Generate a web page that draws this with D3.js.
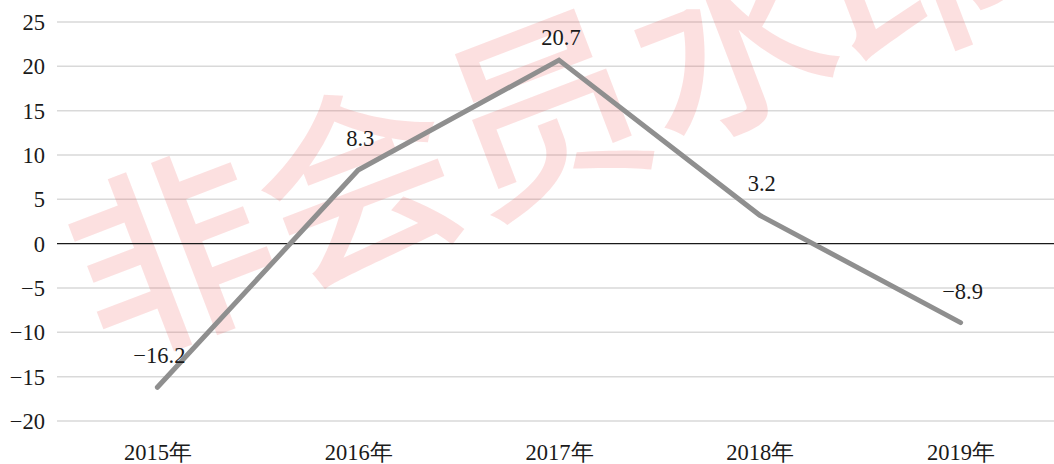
<!DOCTYPE html>
<html>
<head>
<meta charset="utf-8">
<script src="https://cdn.jsdelivr.net/npm/d3@7"></script>
<style>
  html, body { margin: 0; padding: 0; background: #fff; }
  svg { display: block; }
</style>
</head>
<body>
<svg id="chart" width="1054" height="464"></svg>
<script>
// Year-over-year growth rate (%)
const years = ["2015年", "2016年", "2017年", "2018年", "2019年"];
const growth = [-16.2, 8.3, 20.7, 3.2, -8.9];
const yTicks = [-20, -15, -10, -5, 0, 5, 10, 15, 20, 25];
const watermark = "非会员水印";

const W = 1054, H = 464;
const SERIF = "Liberation Serif";
const FS = 22.5;
const textColor = "#1a1a1a";
const fmt = d => d < 0 ? "\u2212" + Math.abs(d) : String(d);

const svg = d3.select("#chart");

const x = d3.scalePoint().domain(years).range([57, 1061]).padding(0.5);
const y = d3.scaleLinear().domain([-20, 25]).range([421, 22]);

// horizontal gridlines
svg.append("g")
  .selectAll("line")
  .data(yTicks.filter(d => d !== 0))
  .join("line")
  .attr("x1", 57).attr("x2", W)
  .attr("y1", d => y(d)).attr("y2", d => y(d))
  .attr("stroke", "#d9d9d9")
  .attr("stroke-width", 1.5);

// y axis labels
svg.append("g")
  .attr("transform", "translate(45,0)")
  .call(d3.axisLeft(y).tickValues(yTicks).tickSize(0).tickPadding(0).tickFormat(fmt))
  .attr("font-family", SERIF)
  .attr("font-size", FS)
  .call(g => g.select(".domain").remove())
  .selectAll("text")
  .attr("dy", "0.33em")
  .attr("fill", textColor);

// x axis labels
svg.append("g")
  .attr("transform", "translate(0,444)")
  .call(d3.axisBottom(x).tickSize(0).tickPadding(0))
  .attr("font-family", SERIF)
  .attr("font-size", FS)
  .call(g => g.select(".domain").remove())
  .selectAll("text")
  .attr("dy", "0.71em")
  .attr("fill", textColor);

// watermark
svg.append("text")
  .attr("transform", "translate(540,100) rotate(-21)")
  .attr("text-anchor", "middle")
  .attr("dominant-baseline", "central")
  .attr("font-size", 200)
  .attr("font-weight", 500)
  .attr("font-family", "Noto Sans CJK SC")
  .attr("fill", "rgba(235,70,70,0.17)")
  .text(watermark);

// zero baseline
svg.append("line")
  .attr("x1", 57).attr("x2", W)
  .attr("y1", y(0)).attr("y2", y(0))
  .attr("stroke", textColor)
  .attr("stroke-width", 1.2);

// series line
const pts = years.map((yr, i) => ({ yr, v: growth[i] }));
svg.append("path")
  .datum(pts)
  .attr("fill", "none")
  .attr("stroke", "#8f8f8f")
  .attr("stroke-width", 5)
  .attr("stroke-linecap", "round")
  .attr("stroke-linejoin", "miter")
  .attr("d", d3.line().x(d => x(d.yr)).y(d => y(d.v)));

// value labels above points
svg.append("g")
  .attr("font-family", SERIF)
  .attr("font-size", FS)
  .attr("fill", textColor)
  .selectAll("text")
  .data(pts)
  .join("text")
  .attr("x", d => x(d.yr) + 2)
  .attr("y", d => Math.max(y(d.v) - 24, y(25) + 23))
  .attr("text-anchor", "middle")
  .text(d => fmt(d.v));
</script>
</body>
</html>
